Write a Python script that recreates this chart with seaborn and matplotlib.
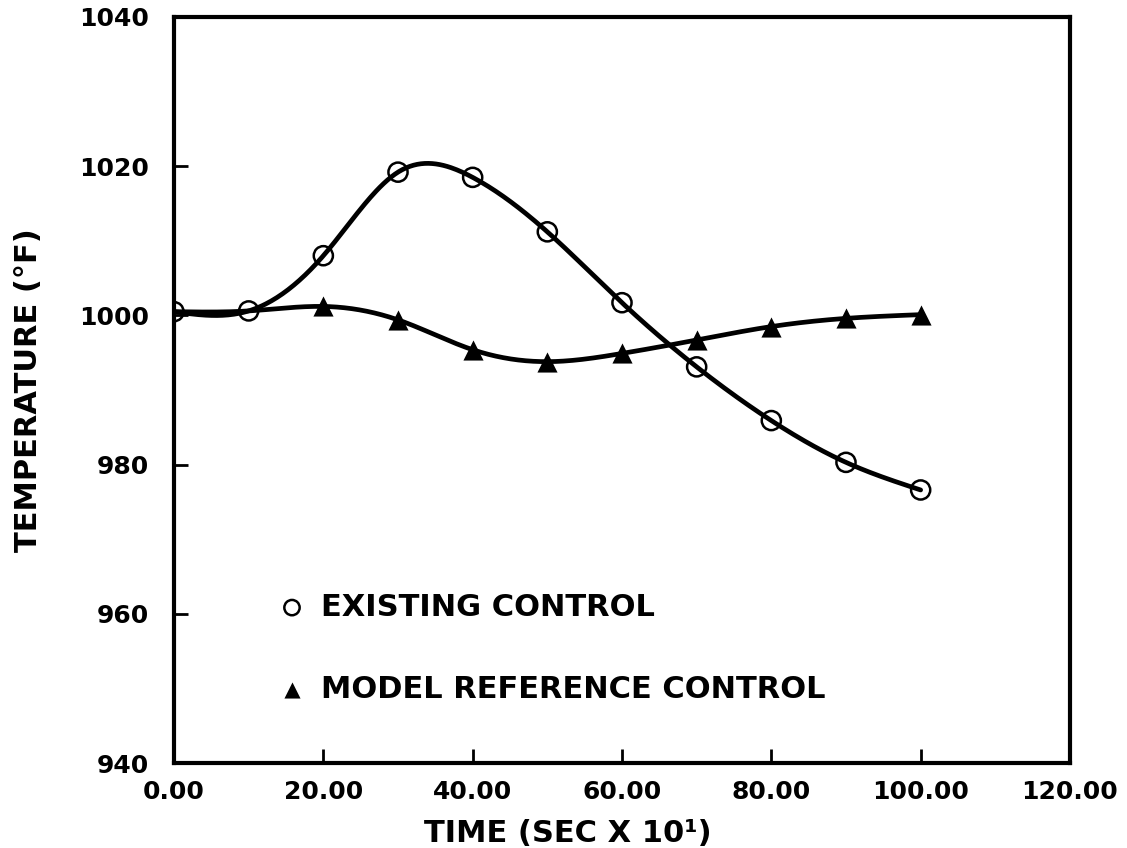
import numpy as np
import pandas as pd
import seaborn as sns
import matplotlib
matplotlib.use("Agg")
import matplotlib.pyplot as plt

# values
time = [0, 10, 20, 30, 40, 50, 60, 70, 80, 90, 100]
existing = [1000.5, 1000.6, 1008.0, 1019.2, 1018.5, 1011.2, 1001.7, 993.1, 985.9, 980.3, 976.6]
model_ref = [1000.5, 1000.6, 1001.2, 999.4, 995.4, 993.8, 994.9, 996.7, 998.5, 999.6, 1000.1]
model_marker_start = 2  # triangles are only drawn from t = 20 on

x_ticks = [0, 20, 40, 60, 80, 100, 120]
y_ticks = [940, 960, 980, 1000, 1020, 1040]


def natural_spline(x, y, n=400):
    # smooth curve through the points, the way the old plotter drew it
    x = np.asarray(x, float)
    y = np.asarray(y, float)
    h = np.diff(x)
    k = len(x)
    A = np.zeros((k, k))
    b = np.zeros(k)
    A[0, 0] = A[-1, -1] = 1
    for i in range(1, k - 1):
        A[i, i - 1] = h[i - 1]
        A[i, i] = 2 * (h[i - 1] + h[i])
        A[i, i + 1] = h[i]
        b[i] = 6 * ((y[i + 1] - y[i]) / h[i] - (y[i] - y[i - 1]) / h[i - 1])
    M = np.linalg.solve(A, b)
    xs = np.linspace(x[0], x[-1], n)
    idx = np.clip(np.searchsorted(x, xs) - 1, 0, k - 2)
    x0, x1 = x[idx], x[idx + 1]
    hh = x1 - x0
    ys = (M[idx] * (x1 - xs) ** 3 / (6 * hh) + M[idx + 1] * (xs - x0) ** 3 / (6 * hh)
          + (y[idx] / hh - M[idx] * hh / 6) * (x1 - xs)
          + (y[idx + 1] / hh - M[idx + 1] * hh / 6) * (xs - x0))
    return xs, ys


df = pd.DataFrame({"time": time, "existing": existing, "model": model_ref})

sns.set_style("ticks")
plt.rcParams["font.family"] = ["DejaVu Sans"]
plt.rcParams["font.weight"] = "bold"
plt.rcParams["text.color"] = "black"
plt.rcParams["axes.labelcolor"] = "black"
plt.rcParams["xtick.color"] = "black"
plt.rcParams["ytick.color"] = "black"

fig, ax = plt.subplots(figsize=(11.27, 8.48), dpi=100)
fig.subplots_adjust(left=0.1544, right=0.9494, bottom=0.1002, top=0.98)

xs, ys = natural_spline(df.time, df.existing)
sns.lineplot(x=xs, y=ys, color="black", linewidth=3.4, ax=ax, sort=False)
xs, ys = natural_spline(df.time, df.model)
sns.lineplot(x=xs, y=ys, color="black", linewidth=3.4, ax=ax, sort=False)

sns.scatterplot(data=df, x="time", y="existing", marker="o", s=190,
                facecolor="none", edgecolor="black", linewidth=1.8,
                label="EXISTING CONTROL", ax=ax, zorder=3)
sns.scatterplot(data=df.iloc[model_marker_start:], x="time", y="model", marker="^", s=210,
                color="black", edgecolor="black", linewidth=0,
                label="MODEL REFERENCE CONTROL", ax=ax, zorder=3)

ax.set_xlim(0, 120)
ax.set_ylim(940, 1040)
ax.set_xticks(x_ticks)
ax.set_xticklabels([f"{v:.2f}" for v in x_ticks])
ax.set_yticks(y_ticks)
ax.tick_params(direction="in", length=10, width=2, labelsize=18)
ax.tick_params(axis="x", pad=12)
ax.tick_params(axis="y", pad=18)
for s in ax.spines.values():
    s.set_linewidth(3)
    s.set_color("black")

ax.set_xlabel("TIME (SEC X 10¹)", fontsize=22, fontweight="bold", labelpad=6)
ax.xaxis.set_label_coords(0.44, -0.075)
ax.set_ylabel("TEMPERATURE (°F)", fontsize=22, fontweight="bold", labelpad=26)

ax.legend(loc="lower left", bbox_to_anchor=(0.109, 0.079), frameon=False,
          fontsize=22, handlelength=1.33, handletextpad=0.3, labelspacing=1.75,
          markerscale=0.8, borderpad=0, borderaxespad=0)

plt.savefig("out.png", dpi=100)
